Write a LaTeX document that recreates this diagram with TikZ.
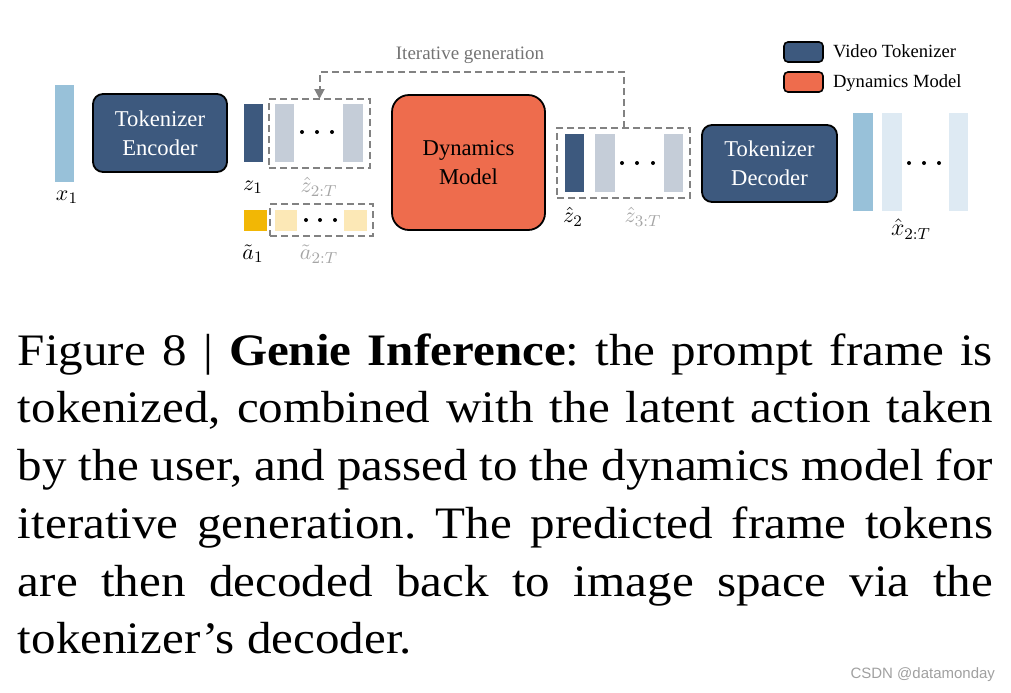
\documentclass[tikz,border=0pt]{standalone}
\usepackage{fontspec}
\setmainfont{Liberation Serif}
\newfontfamily\capfont[FakeStretch=1.09]{Liberation Serif}
\newfontfamily\wmfont{Liberation Sans}
\usetikzlibrary{arrows.meta}
\definecolor{vtblue}{RGB}{61,89,126}
\definecolor{dmorange}{RGB}{238,108,77}
\definecolor{xblue}{RGB}{152,193,217}
\definecolor{xlight}{RGB}{222,234,243}
\definecolor{zlight}{RGB}{197,205,216}
\definecolor{ayellow}{RGB}{242,183,5}
\definecolor{alight}{RGB}{252,232,182}
\definecolor{dgray}{RGB}{130,130,130}
\definecolor{lgray}{RGB}{165,165,165}
\definecolor{tgray}{RGB}{115,115,115}
\definecolor{wgray}{RGB}{160,160,160}
\frenchspacing
\begin{document}
\begin{tikzpicture}[x=0.5pt,y=-0.5pt,
  every node/.style={inner sep=0pt, outer sep=0pt},
  block/.style={draw=black, line width=0.9pt, align=center, text=white,
    font=\fontsize{11.3}{14.5}\selectfont},
  bar/.style={minimum width=9.6pt, minimum height=29pt},
  dbox/.style={draw=dgray, dash pattern=on 3.5pt off 2pt, line width=1pt},
  lab/.style={font=\fontsize{10.8}{12}\selectfont},
  glab/.style={lab, text=lgray},
  dot/.style={fill=black},
  legbox/.style={draw=black, line width=0.8pt, rounded corners=2pt, minimum width=19.5pt, minimum height=10pt},
  legtxt/.style={anchor=base west, font=\fontsize{9.3}{11}\selectfont},
  capline/.style={anchor=base west, font=\capfont\fontsize{22.5}{28.8}\selectfont},
]
\useasboundingbox (0,0) rectangle (1011,692);

% input frame
\node[fill=xblue, minimum width=9.5pt, minimum height=48.5pt] (x1) at (64.5,133.5) {};
\node[lab] (x1l) at (67,197) {$x_1$};

% tokenizer encoder
\node[block, fill=vtblue, rounded corners=5pt, minimum width=67pt, minimum height=39pt] (enc) at (160,133) {Tokenizer\\Encoder};

% latent tokens
\node[bar, fill=vtblue] (z1) at (253.5,133) {};
\node[dbox, minimum width=50.5pt, minimum height=34.5pt] (zl) at (319.5,133.5) {};
\node[bar, fill=zlight] (zl1) at (284.5,133) {};
\node[bar, fill=zlight] (zl2) at (353,133) {};
\fill[dot] (302,132) circle (1pt) (317,132) circle (1pt) (332,132) circle (1pt);
\node[lab] (z1l) at (253,187) {$z_1$};
\node[glab] (zll) at (319,187) {$\hat{z}_{2:T}$};

% actions
\node[fill=ayellow, minimum width=11.5pt, minimum height=10.5pt] (a1) at (255.5,220.5) {};
\node[dbox, minimum width=51.5pt, minimum height=16pt] (al) at (321.5,220) {};
\node[fill=alight, minimum width=11pt, minimum height=10.5pt] (al1) at (286,220.5) {};
\node[fill=alight, minimum width=11.5pt, minimum height=10.5pt] (al2) at (355.5,220.5) {};
\fill[dot] (306,220) circle (1pt) (320,220) circle (1pt) (335,220) circle (1pt);
\node[lab] (a1l) at (253,254) {$\tilde{a}_1$};
\node[glab] (all) at (319,254) {$\tilde{a}_{2:T}$};

% dynamics model
\node[block, fill=dmorange, text=black, rounded corners=8.5pt, minimum width=76.5pt, minimum height=67.5pt] (dyn) at (468.5,162.5) {Dynamics\\Model};

% predicted tokens
\node[dbox, minimum width=66.5pt, minimum height=35pt] (zr) at (623.5,163) {};
\node[bar, fill=vtblue] (zr1) at (574.5,163) {};
\node[bar, fill=zlight] (zr2) at (605,163) {};
\node[bar, fill=zlight] (zr3) at (673.5,163) {};
\fill[dot] (622,163) circle (1pt) (637,163) circle (1pt) (653,163) circle (1pt);
\node[lab] (zr1l) at (573,217) {$\hat{z}_2$};
\node[glab] (zrl) at (643,217) {$\hat{z}_{3:T}$};

% iterative generation loop
\draw[dbox, -{Triangle[width=5pt,length=5pt]}] (zr.north) -- ++(0,-56) -| (zl.north);
\node[text=tgray, font=\fontsize{9.5}{11}\selectfont] (itl) at (470,55) {Iterative generation};

% tokenizer decoder
\node[block, fill=vtblue, rounded corners=5pt, minimum width=67.5pt, minimum height=38.5pt] (dec) at (769.5,163.5) {Tokenizer\\Decoder};

% output frames
\node[fill=xblue, minimum width=10pt, minimum height=49pt] (xo1) at (863,162) {};
\node[fill=xlight, minimum width=10pt, minimum height=49pt] (xo2) at (892,162) {};
\node[fill=xlight, minimum width=9.5pt, minimum height=49pt] (xo3) at (958.5,162) {};
\fill[dot] (909,163) circle (1pt) (924,163) circle (1pt) (939,163) circle (1pt);
\node[lab, font=\fontsize{12}{14}\selectfont] (xol) at (911,229) {$\hat{x}_{2:T}$};

% legend
\node[legbox, fill=vtblue] (lg1) at (803.5,52) {};
\node[legbox, fill=dmorange] (lg2) at (803.5,82) {};
\node[legtxt] (lt1) at (833,57) {Video Tokenizer};
\node[legtxt] (lt2) at (833,87) {Dynamics Model};

% caption
\node[capline] (c1) at (18,365) {\makebox[487.5pt][s]{Figure 8 | \textbf{Genie Inference}: the prompt frame is}};
\node[capline] (c2) at (18,422) {\makebox[487.5pt][s]{tokenized, combined with the latent action taken}};
\node[capline] (c3) at (18,480) {\makebox[487.5pt][s]{by the user, and passed to the dynamics model for}};
\node[capline] (c4) at (18,538) {\makebox[487.5pt][s]{iterative generation. The predicted frame tokens}};
\node[capline] (c5) at (18,596) {\makebox[487.5pt][s]{are then decoded back to image space via the}};
\node[capline] (c6) at (18,653) {tokenizer’s decoder.};

% watermark
\node[anchor=east, text=wgray, font=\wmfont\fontsize{7.5}{9}\selectfont] (wm) at (995,675) {CSDN @datamonday};
\end{tikzpicture}
\end{document}
